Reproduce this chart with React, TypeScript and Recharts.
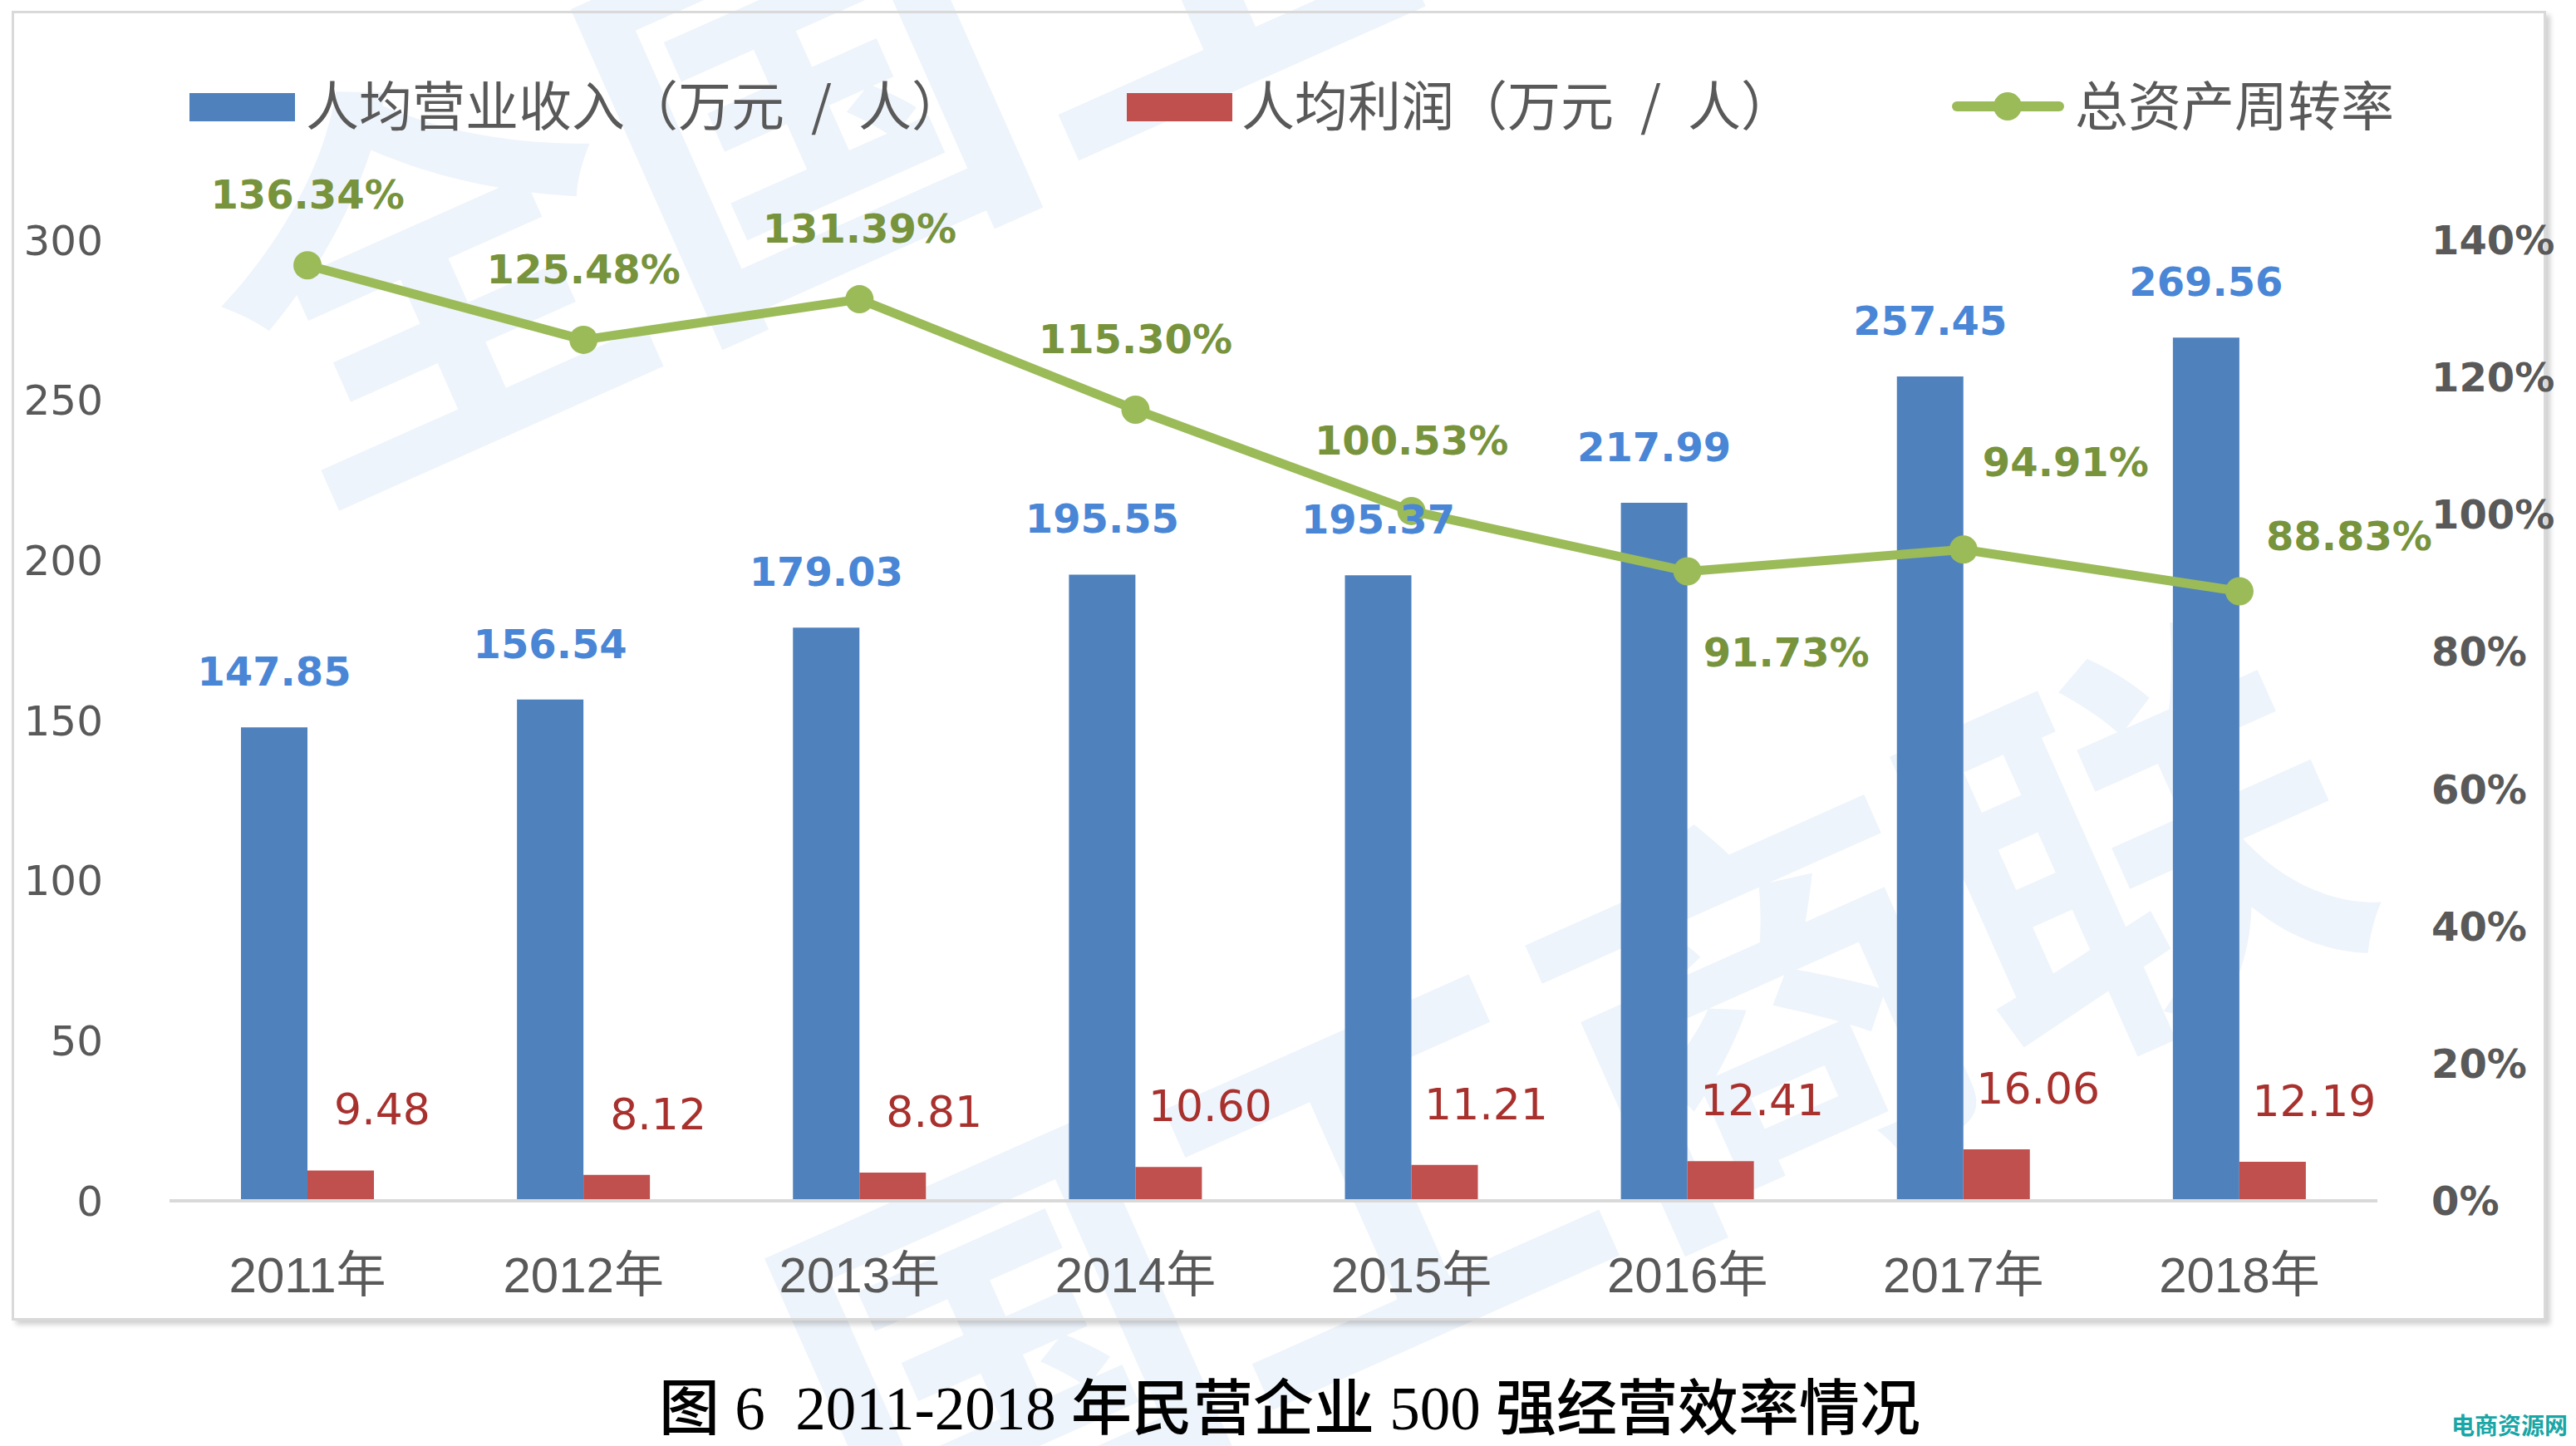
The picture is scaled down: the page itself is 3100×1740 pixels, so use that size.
import { Bar, ComposedChart, LabelList, Line, XAxis, YAxis } from "recharts"

const years = ["2011年", "2012年", "2013年", "2014年", "2015年", "2016年", "2017年", "2018年"]
const revenuePerCapita = [147.85, 156.54, 179.03, 195.55, 195.37, 217.99, 257.45, 269.56]
const profitPerCapita = [9.48, 8.12, 8.81, 10.6, 11.21, 12.41, 16.06, 12.19]
const assetTurnover = [136.34, 125.48, 131.39, 115.3, 100.53, 91.73, 94.91, 88.83]
const leftTicks = [0, 50, 100, 150, 200, 250, 300]
const rightTicks = [0, 20, 40, 60, 80, 100, 120, 140]

const seriesNames = ["人均营业收入（万元\u2002/\u2002人）", "人均利润（万元\u2002/\u2002人）", "总资产周转率"]

const data = years.map((year, i) => ({
  year,
  revenue: revenuePerCapita[i],
  profit: profitPerCapita[i],
  turnover: assetTurnover[i],
}))

const BLUE = "#4f81bd"
const RED = "#c0504d"
const GREEN = "#9bbb59"
const GRAY = "#595959"

const RevenueLabel = (props: any) => {
  const { x, y, width, value } = props
  return (
    <text x={x + width / 2} y={y - 67} textAnchor="middle" dominantBaseline="central"
      fontFamily="DejaVu Sans" fontWeight="bold" fontSize={48} fill="#4a86d6">
      {Number(value).toFixed(2)}
    </text>
  )
}

const ProfitLabel = (props: any) => {
  const { x, y, width, value } = props
  return (
    <text x={x + width / 2 + 50} y={y - 73} textAnchor="middle" dominantBaseline="central"
      fontFamily="DejaVu Sans" fontSize={52} fill="#a8312e">
      {Number(value).toFixed(2)}
    </text>
  )
}

// the last three turnover labels sit to the right of their points, as in the source
function turnoverOffset(index: number) {
  if (index === 5) return [119, 97]
  if (index === 6) return [123, -105]
  if (index === 7) return [132, -67]
  return [0, -85]
}

const TurnoverLabel = (props: any) => {
  const { x, y, index, value } = props
  const [dx, dy] = turnoverOffset(index)
  return (
    <text x={x + dx} y={y + dy} textAnchor="middle" dominantBaseline="central"
      fontFamily="DejaVu Sans" fontWeight="bold" fontSize={48} fill="#77933c">
      {Number(value).toFixed(2)}%
    </text>
  )
}

const legendText = {
  position: "absolute" as const,
  top: 84,
  fontFamily: '"Noto Sans CJK SC"',
  fontSize: 64,
  lineHeight: "78px",
  color: GRAY,
  whiteSpace: "pre" as const,
}

export default function App() {
  return (
    <div style={{ position: "absolute", left: 0, top: 0, width: 3100, height: 1740, background: "#fff", overflow: "hidden" }}>
      <svg width={3100} height={1740} style={{ position: "absolute", left: 0, top: 0 }}>
        <g fill="#eef4fb" fontFamily='"Noto Sans CJK SC"' fontWeight="bold" fontSize={500}>
          <text x={360} y={600} transform="rotate(-24 360 600)">全国工</text>
          <text x={1050} y={1900} transform="rotate(-24 1050 1900)">国工商联</text>
        </g>
      </svg>
      <div style={{ position: "absolute", left: 14, top: 13, width: 3044, height: 1570, border: "3px solid #d9d9d9", boxShadow: "5px 5px 6px rgba(0,0,0,0.18)" }} />

      <div style={{ position: "absolute", left: 228, top: 112, width: 127, height: 34, background: BLUE }} />
      <div style={{ ...legendText, left: 368 }}>{seriesNames[0]}</div>
      <div style={{ position: "absolute", left: 1356, top: 112, width: 127, height: 34, background: RED }} />
      <div style={{ ...legendText, left: 1494 }}>{seriesNames[1]}</div>
      <div style={{ position: "absolute", left: 2349, top: 122, width: 135, height: 12, borderRadius: 6, background: GREEN }} />
      <div style={{ position: "absolute", left: 2399, top: 111, width: 34, height: 34, borderRadius: 17, background: GREEN }} />
      <div style={{ ...legendText, left: 2497 }}>{seriesNames[2]}</div>

      <div style={{ position: "absolute", left: 0, top: 0 }}>
        <ComposedChart width={3100} height={1600} data={data} barGap={0} margin={{ top: 289, right: 0, bottom: 0, left: 0 }}>
          <XAxis dataKey="year" height={155} tickLine={false} tickSize={0} tickMargin={67}
            axisLine={{ stroke: "#d9d9d9", strokeWidth: 4 }}
            tick={{ fill: GRAY, fontSize: 60, fontFamily: '"Liberation Sans", "Noto Sans CJK SC"' }} />
          <YAxis yAxisId="left" width={204} domain={[0, 300]} ticks={leftTicks} axisLine={false} tickLine={false}
            tickSize={0} tickMargin={80} tick={{ fill: GRAY, fontSize: 50, fontFamily: "DejaVu Sans" }} />
          <YAxis yAxisId="right" orientation="right" width={239} domain={[0, 140]} ticks={rightTicks}
            axisLine={false} tickLine={false} tickSize={0} tickMargin={65} tickFormatter={(v) => `${v}%`}
            tick={{ fill: GRAY, fontSize: 48, fontWeight: "bold", fontFamily: "DejaVu Sans" }} />
          <Bar yAxisId="left" dataKey="revenue" name={seriesNames[0]} fill={BLUE} barSize={80} isAnimationActive={false}>
            <LabelList dataKey="revenue" content={RevenueLabel} />
          </Bar>
          <Bar yAxisId="left" dataKey="profit" name={seriesNames[1]} fill={RED} barSize={80} isAnimationActive={false}>
            <LabelList dataKey="profit" content={ProfitLabel} />
          </Bar>
          <Line yAxisId="right" dataKey="turnover" name={seriesNames[2]} stroke={GREEN} strokeWidth={11}
            dot={{ r: 17, fill: GREEN, stroke: "none" }} activeDot={false} isAnimationActive={false}>
            <LabelList dataKey="turnover" content={TurnoverLabel} />
          </Line>
        </ComposedChart>
      </div>

      <div style={{ position: "absolute", left: 0, width: 3104, top: 1654, lineHeight: "84px", textAlign: "center", fontFamily: '"Liberation Serif", "Noto Sans CJK SC"', fontSize: 73, fontWeight: 500, color: "#000", whiteSpace: "pre" }}>
        图 6  2011-2018 年民营企业 500 强经营效率情况
      </div>
      <div style={{ position: "absolute", left: 2950, top: 1696, lineHeight: "36px", fontFamily: '"Noto Sans CJK SC"', fontWeight: "bold", fontSize: 28, color: "#19a6a6" }}>
        电商资源网
      </div>
    </div>
  )
}
